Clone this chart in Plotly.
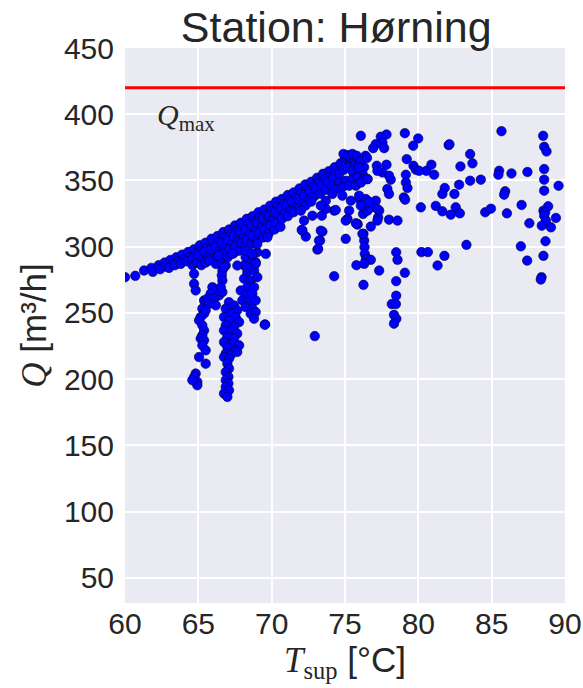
import plotly.graph_objects as go

# ---------------- data ----------------
Q_MAX = 420
X_TICKS = [60, 65, 70, 75, 80, 85, 90]
Y_TICKS = [50, 100, 150, 200, 250, 300, 350, 400, 450]

# main dense ridge (T_sup, Q)
band = [
    (60.0, 277), (60.7, 278), (61.3, 282), (61.8, 284), (61.9, 281), (62.3, 286), (62.4, 283),
    (62.7, 288), (62.8, 285), (63.1, 290), (63.2, 287), (63.0, 284), (63.5, 292), (63.6, 289),
    (63.4, 286), (63.9, 294), (64.0, 290), (63.8, 287), (64.3, 296), (64.4, 292), (64.2, 289),
    (64.6, 286), (64.7, 298), (64.8, 295), (64.6, 291), (64.9, 288), (65.1, 301), (65.2, 297),
    (65.0, 294), (65.3, 290), (65.2, 286), (65.5, 303), (65.6, 299), (65.4, 296), (65.7, 292),
    (65.5, 288), (65.9, 306), (66.0, 302), (65.8, 298), (66.1, 295), (65.9, 291), (66.2, 287),
    (66.3, 308), (66.4, 304), (66.2, 300), (66.5, 297), (66.3, 293), (66.6, 290), (66.7, 311),
    (66.8, 307), (66.6, 303), (66.9, 299), (66.7, 296), (67.0, 292), (67.1, 313), (67.2, 309),
    (67.0, 305), (67.3, 302), (67.1, 298), (67.4, 295), (67.5, 316), (67.6, 312), (67.4, 308),
    (67.7, 304), (67.5, 300), (67.8, 297), (67.9, 318), (68.0, 314), (67.8, 311), (68.1, 307),
    (67.9, 303), (68.2, 300), (68.3, 321), (68.4, 317), (68.2, 313), (68.5, 309), (68.3, 305),
    (68.6, 302), (68.7, 323), (68.8, 319), (68.6, 316), (68.9, 312), (68.7, 308), (69.0, 304),
    (69.1, 326), (69.2, 322), (69.0, 318), (69.3, 314), (69.1, 310), (69.4, 307), (69.5, 328),
    (69.6, 324), (69.4, 321), (69.7, 317), (69.5, 313), (69.8, 310), (69.9, 331), (70.0, 327),
    (69.8, 323), (70.1, 320), (69.9, 316), (70.2, 313), (70.3, 334), (70.4, 330), (70.2, 326),
    (70.5, 322), (70.3, 318), (70.6, 315), (70.7, 336), (70.8, 332), (70.6, 329), (70.9, 325),
    (70.7, 321), (71.1, 339), (71.2, 335), (71.0, 331), (71.3, 327), (71.1, 323), (71.5, 341),
    (71.6, 337), (71.4, 334), (71.7, 330), (71.5, 326), (71.9, 344), (72.0, 340), (71.8, 336),
    (72.1, 332), (71.9, 329), (72.3, 347), (72.4, 343), (72.2, 339), (72.5, 335), (72.3, 331),
    (72.7, 349), (72.8, 345), (72.6, 342), (72.9, 338), (72.7, 334), (73.1, 352), (73.2, 348),
    (73.0, 344), (73.3, 340), (73.5, 355), (73.6, 351), (73.4, 347), (73.7, 343), (73.9, 357),
    (74.0, 353), (73.8, 349), (74.3, 360), (74.4, 356), (74.2, 352), (74.7, 363), (74.8, 359),
    (74.6, 355), (75.0, 366), (75.1, 362), (74.9, 358), (75.3, 368), (75.4, 364), (75.2, 360),
    (75.6, 366), (75.7, 362), (75.5, 357), (76.0, 363), (75.9, 358), (76.3, 360), (76.2, 355),
    (74.9, 370), (75.2, 369), (75.5, 370), (75.8, 368.6), (76.4, 368.6), (76.1, 365), (76.5, 367),
]

# lower branch under the ridge
branch = [
    (74.14, 346.0), (74.6, 348.5), (75.05, 349.8), (75.5, 351.1), (75.85, 352.3), (76.3, 351.1),
    (76.53, 351.1), (74.37, 343.6), (74.82, 344.8), (75.28, 346.0), (75.74, 346.0), (76.08, 348.5),
    (76.08, 348.6), (76.53, 351.0), (75.96, 359.8),
]

# low-flow legs around 65-69 degC
legs = [
    (65.39, 259.4), (65.5, 256.9), (65.27, 253.2), (65.39, 249.4), (65.16, 246.9), (65.05, 244.4),
    (65.27, 240.6), (65.39, 236.8), (65.27, 233.1), (65.16, 230.6), (65.39, 229.3), (65.27, 225.5),
    (65.5, 221.8), (65.05, 216.7), (65.5, 211.7), (64.82, 204.2), (64.71, 201.6), (64.93, 197.9),
    (64.93, 195.4), (64.59, 199.2),
    (65.96, 269.4), (66.19, 266.9), (65.84, 264.5), (66.41, 263.2), (65.61, 260.7), (66.07, 260.7),
    (66.64, 265.7), (65.73, 256.9), (66.19, 255.7), (65.5, 251.9),
    (66.64, 294.6), (66.6, 287.1), (66.64, 282.0), (66.6, 278.3), (66.64, 274.5), (66.53, 269.4),
    (66.87, 285.8), (64.71, 279.5), (64.71, 272.0), (64.82, 267.0),
    (67.09, 258.1), (67.44, 255.6), (66.87, 253.2), (67.65, 251.9), (67.2, 249.4), (66.75, 246.9),
    (67.54, 246.9), (67.09, 244.4), (67.78, 243.1), (66.87, 240.6), (67.44, 239.3), (66.75, 236.8),
    (67.2, 235.6), (67.65, 234.3), (66.98, 231.8), (67.44, 230.6), (66.75, 228.0), (67.32, 226.8),
    (67.78, 225.5), (66.98, 224.2), (67.54, 221.8), (66.87, 219.3), (67.2, 218.0), (67.65, 220.5),
    (66.75, 216.7), (67.09, 215.5), (66.98, 211.7), (67.09, 208.0), (66.87, 205.4), (67.05, 201.7),
    (66.87, 199.2), (67.05, 196.7), (66.87, 194.1), (67.09, 191.6), (66.75, 189.1), (66.98, 186.6),
    (68.23, 292.0), (68.68, 293.3), (69.02, 295.8), (68.12, 285.8), (68.57, 287.1), (68.91, 288.3),
    (68.34, 280.7), (68.8, 282.0), (68.12, 275.8), (68.57, 274.5), (69.02, 277.0), (68.34, 269.4),
    (68.8, 269.4), (67.89, 266.9), (68.23, 263.2), (68.68, 264.5), (68.0, 259.4), (68.46, 258.1),
    (68.91, 259.4), (68.23, 254.4), (68.68, 253.2), (68.57, 249.4), (68.91, 250.6), (68.8, 245.6),
    (69.55, 241.3), (69.53, 241.1),
    (65.73, 289.5), (66.41, 293.3), (67.32, 294.6), (67.66, 285.8), (68.23, 297.1), (68.68, 294.6),
    (69.02, 302.1), (69.71, 307.1), (69.6, 294.6), (68.91, 287.1), (68.34, 284.5), (66.75, 284.5),
]

# scattered points at higher supply temperatures
spread = [
    (76.08, 383.7), (77.83, 384.7), (77.44, 383.0), (77.55, 378.7), (77.1, 377.4), (76.92, 374.4),
    (77.67, 374.4), (79.08, 385.7), (79.99, 381.7), (79.65, 376.2), (82.07, 376.7), (82.12, 377.3),
    (85.67, 387.2), (88.51, 383.7), (88.58, 375.4), (88.74, 371.9),
    (79.21, 366.1), (79.67, 361.1), (79.83, 358.1), (80.55, 357.3), (80.89, 361.9), (81.08, 354.3),
    (80.05, 357.3), (79.15, 354.3), (79.15, 348.5), (79.26, 344.3), (79.01, 337.2), (79.1, 335.5),
    (82.87, 360.6), (83.53, 369.9), (83.69, 362.9), (84.26, 350.6), (83.53, 349.8), (82.78, 346.8),
    (81.8, 344.3), (81.64, 339.8), (82.46, 339.8),
    (81.19, 330.8), (81.64, 326.7), (82.21, 324.2), (82.55, 329.7), (82.83, 325.2), (80.17, 329.7),
    (84.56, 326.0), (84.95, 328.7),
    (85.51, 357.3), (85.46, 354.3), (86.35, 355.3), (87.44, 356.4),
    (85.92, 341.8), (85.85, 339.3), (86.04, 325.2), (87.04, 331.5), (87.57, 317.7),
    (88.58, 358.6), (88.58, 350.6), (88.58, 342.3), (88.85, 330.5), (88.53, 327.2), (88.65, 326.0),
    (88.58, 323.4), (88.7, 319.7), (89.38, 321.7), (88.42, 315.9), (89.04, 314.6), (89.56, 346.0),
    (88.67, 304.1), (88.53, 293.1), (88.4, 277.0), (88.35, 275.2),
    (86.99, 300.3), (87.42, 289.5), (83.28, 301.4), (81.78, 293.1), (81.31, 285.8), (80.21, 295.9),
    (80.65, 295.9),
    (78.49, 295.8), (78.58, 290.1), (79.08, 280.3), (78.49, 274.0), (78.49, 263.0), (78.19, 256.7),
    (78.47, 256.7), (78.34, 248.6), (78.5, 245.6), (78.34, 241.9),
    (78.0, 320.4), (78.58, 319.7), (77.33, 282.0), (76.26, 271.2), (74.26, 277.7), (72.94, 232.5),
    (76.26, 309.7), (76.31, 304.6), (76.33, 299.6), (76.35, 294.6), (76.42, 290.1), (76.53, 290.8),
    (76.76, 290.1), (75.78, 286.0), (76.31, 287.1),
    (76.23, 324.7), (76.53, 327.2), (76.76, 329.7), (75.85, 317.2), (76.76, 315.2), (77.26, 322.2),
    (77.33, 327.2), (77.1, 334.7), (76.53, 334.7), (76.03, 335.3),
    (77.89, 343.6), (78.0, 339.8), (77.17, 361.1), (77.83, 361.9), (77.55, 356.1), (78.12, 350.6),
    (78.0, 353.6), (77.21, 357.3),
    (75.05, 305.9), (73.3, 304.6), (73.12, 297.8), (73.46, 311.4), (72.33, 307.6), (72.1, 312.1),
    (72.21, 319.7), (72.78, 323.4), (73.42, 323.4), (73.69, 334.7), (74.26, 327.2), (75.28, 327.2),
    (75.4, 334.7), (75.85, 316.7), (75.96, 338.5),
    (74.14, 339.8), (74.82, 338.5), (76.42, 336.0), (76.64, 333.5), (76.08, 331.0), (77.21, 328.5),
    (75.17, 321.0), (75.74, 317.7), (75.05, 319.7), (74.37, 327.7), (73.69, 328.5), (73.35, 331.0),
    (73.35, 312.1), (77.21, 319.7), (76.19, 309.7),
    (71.99, 327.2), (72.05, 312.7), (73.23, 304.6), (73.17, 298.4),
]

points = band + branch + legs + spread
t_sup = [p[0] for p in points]
q_flow = [p[1] for p in points]

# ---------------- figure ----------------
TXT = '#262626'
SANS = 'Liberation Sans, Arial, sans-serif'
SERIF = 'Liberation Serif, Times New Roman, serif'

fig = go.Figure()
fig.add_trace(go.Scatter(
    x=t_sup, y=q_flow, mode='markers',
    marker=dict(color='#0000FF', size=9.5, line=dict(color='#000033', width=0.6)),
    showlegend=False,
))
fig.add_hline(y=Q_MAX, line=dict(color='#FF0000', width=3))

fig.add_annotation(
    x=64.15, y=398, xref='x', yref='y', showarrow=False,
    text='<i>Q</i><sub>max</sub>',
    font=dict(family=SERIF, size=30, color=TXT),
)

fig.update_layout(
    width=583, height=688,
    margin=dict(l=125, r=18, t=48, b=85, autoexpand=False),
    paper_bgcolor='white', plot_bgcolor='#EAEAF2',
    font=dict(family=SANS, color=TXT),
    title=dict(text='Station: Hørning', x=0.48, xref='paper', xanchor='center',
               y=1 - 27 / 688, yref='container', yanchor='middle',
               font=dict(family=SANS, size=43, color=TXT)),
    showlegend=False,
)
fig.update_xaxes(
    range=[60, 90], tickvals=X_TICKS, showgrid=True, gridcolor='white', gridwidth=1.5,
    zeroline=False, showline=False, ticks='', tickfont=dict(size=30, color=TXT),
    automargin=False,
    title=dict(text='<span style="font-family:Liberation Serif"><i>T</i><sub>sup</sub></span> [°C]',
               font=dict(size=35, color=TXT), standoff=6),
)
fig.update_yaxes(
    range=[31, 450], tickvals=Y_TICKS, showgrid=True, gridcolor='white', gridwidth=1.5,
    zeroline=False, showline=False, ticks='', tickfont=dict(size=30, color=TXT),
    automargin=False, ticklabelstandoff=10,
    title=dict(text='<span style="font-family:Liberation Serif"><i>Q</i></span> [m³/h]',
               font=dict(size=35, color=TXT), standoff=6),
)

fig.write_html('out.html')
